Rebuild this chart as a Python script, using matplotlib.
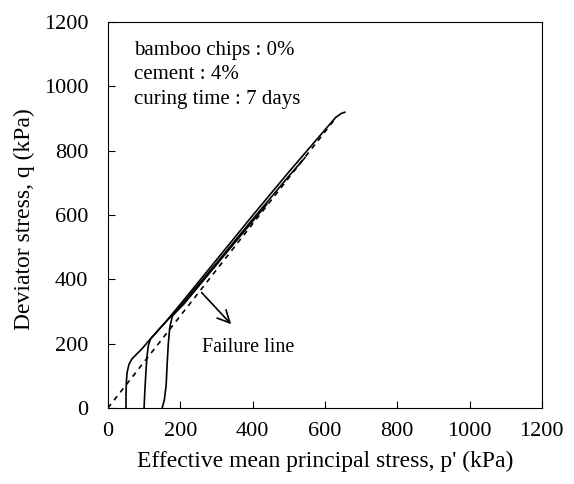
import numpy as np
import matplotlib.pyplot as plt

plt.rcParams['font.family'] = ['Liberation Serif', 'DejaVu Serif']

# stress paths (p', q) in kPa
pA = [50, 50, 51, 53, 58, 66, 80, 95, 110, 130, 160, 200, 300, 400, 500, 600, 630, 645, 655]
qA = [0, 40, 80, 110, 135, 152, 168, 185, 205, 230, 268, 322, 460, 598, 733, 864, 903, 915, 919]

pB = [100, 102, 105, 108, 112, 118, 140, 200, 300, 400, 500, 545]
qB = [0, 50, 110, 160, 195, 215, 243, 316, 450, 586, 720, 778]

pC = [150, 156, 161, 164, 167, 171, 178, 190, 210, 300, 400, 440]
qC = [0, 25, 70, 140, 200, 250, 285, 300, 323, 445, 580, 634]

# failure line q = M p'
M = 1.43
p_fail = [0, 630]

info = ['bamboo chips : 0%', 'cement : 4%', 'curing time : 7 days']

fig = plt.figure(figsize=(5.74, 4.84), dpi=100)
ax = fig.add_axes([0.188, 0.157, 0.756, 0.798])

for p, q in [(pA, qA), (pB, qB), (pC, qC)]:
    ax.plot(p, q, color='black', lw=1.2)
ax.plot(p_fail, [M * v for v in p_fail], color='black', lw=1.2, ls=(0, (3, 3)))

ax.annotate('', xy=(346, 254), xytext=(254, 365),
            arrowprops=dict(arrowstyle='->', color='black', lw=1.2, mutation_scale=22))
ax.text(260, 187, 'Failure line', fontsize=14.5, va='center')

for i, s in enumerate(info):
    ax.text(72, 1110 - 75 * i, s, fontsize=15, va='center')

ax.set_xlim(0, 1200)
ax.set_ylim(0, 1200)
ax.set_xticks(np.arange(0, 1201, 200))
ax.set_yticks(np.arange(0, 1201, 200))
ax.tick_params(direction='in', length=5, labelsize=16)
ax.tick_params(axis='x', pad=10)
ax.tick_params(axis='y', pad=14)
ax.set_xlabel("Effective mean principal stress, p' (kPa)", fontsize=17)
ax.set_ylabel('Deviator stress, q (kPa)', fontsize=17)
ax.xaxis.set_label_coords(0.5, -0.11)
ax.yaxis.set_label_coords(-0.168, 0.49)

fig.savefig('out.png', dpi=100)
